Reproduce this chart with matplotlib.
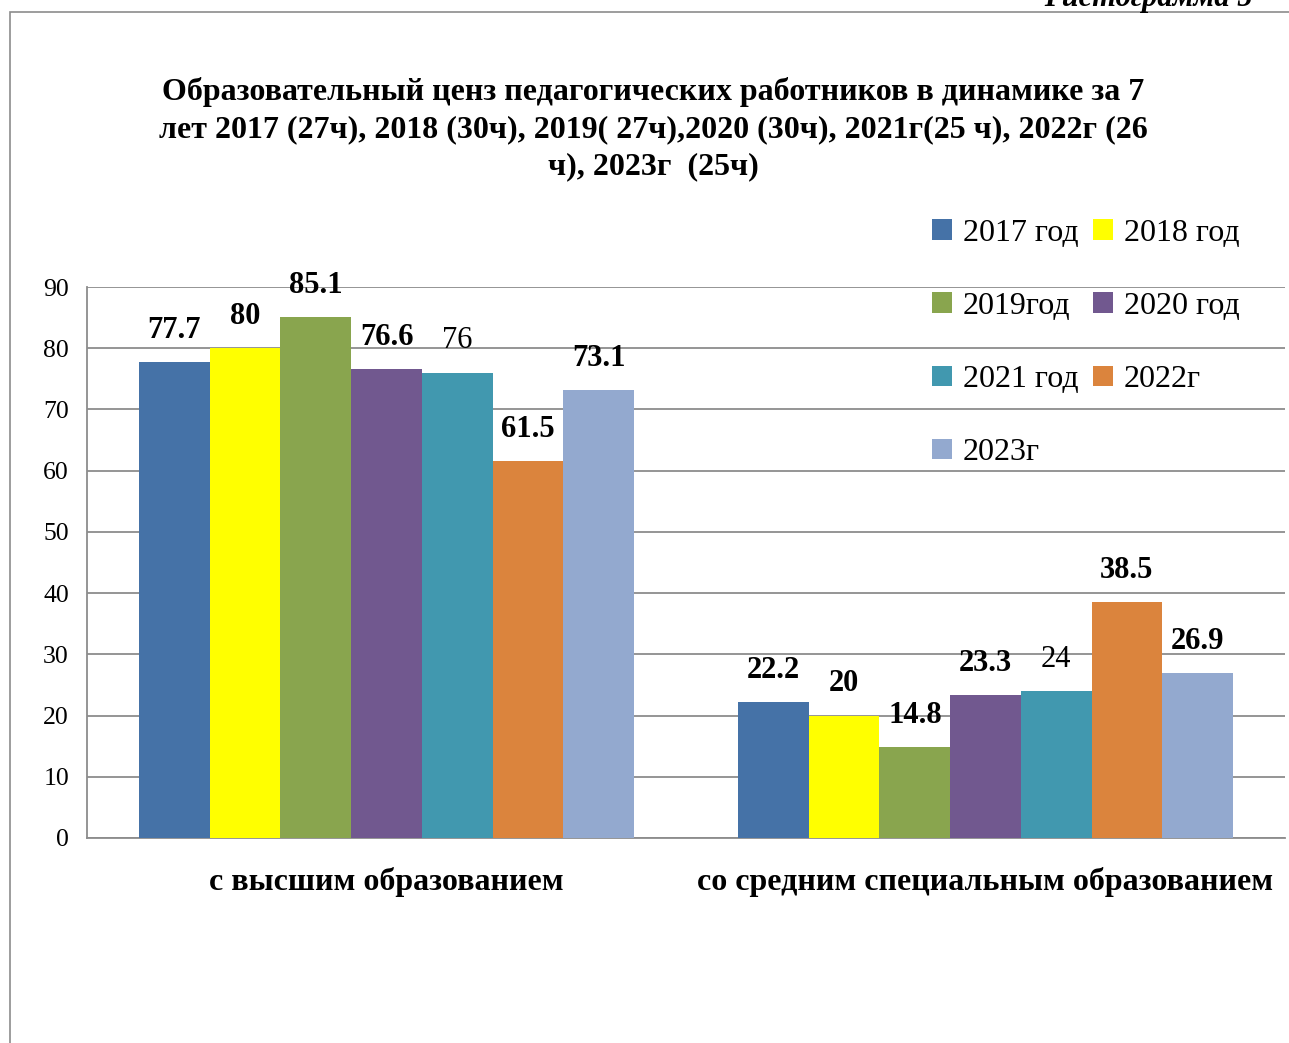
import numpy as np
import matplotlib.pyplot as plt
from matplotlib.patches import Rectangle

plt.rcParams['font.family'] = ['Liberation Serif', 'DejaVu Serif']

categories = ['с высшим образованием', 'со средним специальным образованием']
series_names = ['2017 год', '2018 год', '2019год', '2020 год', '2021 год', '2022г', '2023г']
values = [
    [77.7, 22.2],
    [80, 20],
    [85.1, 14.8],
    [76.6, 23.3],
    [76, 24],
    [61.5, 38.5],
    [73.1, 26.9],
]
label_text = [
    ['77.7', '22.2'],
    ['80', '20'],
    ['85.1', '14.8'],
    ['76.6', '23.3'],
    ['76', '24'],
    ['61.5', '38.5'],
    ['73.1', '26.9'],
]
bold_labels = [True, True, True, True, False, True, True]
colors = ['#4572A7', '#FFFF00', '#89A54E', '#71588F', '#4198AF', '#DB843D', '#93A9CF']
y_ticks = [0, 10, 20, 30, 40, 50, 60, 70, 80, 90]

title = ('Образовательный ценз педагогических работников в динамике за 7\n'
         'лет 2017 (27ч), 2018 (30ч), 2019( 27ч),2020 (30ч), 2021г(25 ч), 2022г (26\n'
         'ч), 2023г  (25ч)')

fig = plt.figure(figsize=(12.89, 10.43), dpi=100)
ax = fig.add_axes([87 / 1289, 1 - 838 / 1043, 1198 / 1289, 551 / 1043])

# outer frame of the document (left and top edges visible)
fig.patches.append(Rectangle((10 / 1289, -0.1), 1.2, 1 - 12 / 1043 + 0.1,
                             transform=fig.transFigure, fill=False,
                             edgecolor='#8c8c8c', linewidth=1.2))
fig.text(1253 / 1289, 1 - 6 / 1043, 'Гистограмма 5', ha='right', va='baseline',
         fontsize=22, fontweight='bold', fontstyle='italic')

x = np.arange(len(categories))
width = 0.118
n = len(series_names)
handles = []
for i, name in enumerate(series_names):
    pos = x + (i - (n - 1) / 2) * width
    bars = ax.bar(pos, values[i], width, color=colors[i], label=name, zorder=3)
    handles.append(bars)
    for b, txt in zip(bars, label_text[i]):
        ax.annotate(txt, (b.get_x() + b.get_width() / 2, b.get_height()),
                    xytext=(0, 23), textcoords='offset points',
                    ha='center', va='center', fontsize=22,
                    fontweight='bold' if bold_labels[i] else 'normal')

ax.set_xlim(-0.5, 1.5)
ax.set_ylim(0, 90)
ax.set_yticks(y_ticks)
ax.set_yticklabels([str(t) for t in y_ticks], fontsize=18.5)
ax.set_xticks(x)
ax.set_xticklabels(categories, fontsize=23, fontweight='bold')
ax.tick_params(axis='x', length=0, pad=21)
ax.tick_params(axis='y', length=0, pad=13)
ax.grid(axis='y', color='#8c8c8c', linewidth=1.3, zorder=0)
ax.set_axisbelow(True)
for s in ['top', 'right']:
    ax.spines[s].set_visible(False)
ax.spines['left'].set_color('#8c8c8c')
ax.spines['bottom'].set_color('#8c8c8c')
ax.spines['left'].set_linewidth(1.3)
ax.spines['bottom'].set_linewidth(1.3)

fig.text(653 / 1289, 1 - 129 / 1043, title, ha='center', va='center',
         fontsize=23, fontweight='bold', linespacing=1.36)

order = [0, 2, 4, 6, 1, 3, 5]
fig.legend([handles[k] for k in order], [series_names[k] for k in order],
           loc='upper left', bbox_to_anchor=(932 / 1289, 1 - 219 / 1043),
           ncol=2, frameon=False, fontsize=23, handlelength=0.62, handleheight=0.62,
           handletextpad=0.35, columnspacing=0.45, labelspacing=1.38, borderpad=0,
           borderaxespad=0)

fig.savefig('out.png', dpi=100)
